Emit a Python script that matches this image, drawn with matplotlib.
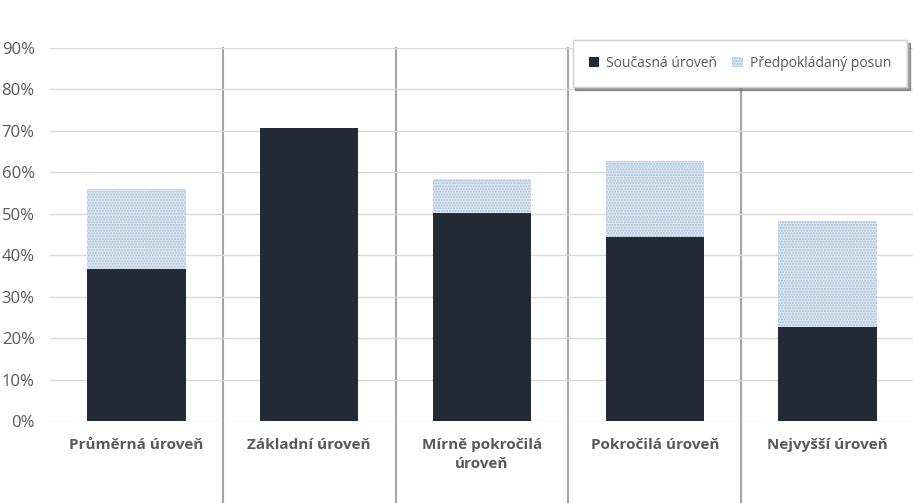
import matplotlib.pyplot as plt
import numpy as np

plt.rcParams['font.family'] = ['Open Sans', 'DejaVu Sans']

# Data
categories = ["Průměrná úroveň", "Základní úroveň", "Mírně pokročilá\núroveň",
              "Pokročilá úroveň", "Nejvyšší úroveň"]
current = [36.7, 70.7, 50.2, 44.4, 22.7]
shift = [19.3, 0.0, 8.2, 18.3, 25.6]
yticks = [0, 10, 20, 30, 40, 50, 60, 70, 80, 90]

fig = plt.figure(figsize=(9.13, 5.03), dpi=100)
ax = fig.add_axes([50 / 913, 82 / 503, 864 / 913, 373 / 503])

x = np.arange(len(categories))
ax.bar(x, current, width=0.57, color='#222a35', label='Současná úroveň', zorder=3)
ax.bar(x, shift, width=0.57, bottom=current, color='#dde7f2', edgecolor='#a8bfd9',
       hatch='......', linewidth=0, label='Předpokládaný posun', zorder=3)

ax.set_xlim(-0.5, len(categories) - 0.5)
ax.set_ylim(0, 90)
ax.set_yticks(yticks)
ax.set_yticklabels([f"{t}%" for t in yticks], color='#595959', fontsize=12)
ax.tick_params(axis='y', length=0, pad=11)
ax.grid(axis='y', color='#d9d9d9', linewidth=1, zorder=0)
for s in ax.spines.values():
    s.set_visible(False)

ax.set_xticks(x)
ax.set_xticklabels(categories, fontsize=11, fontweight='bold', color='#595959',
                   va='top', linespacing=1.5)
ax.tick_params(axis='x', length=0, pad=12)

# separators between categories, running down through the labels
for b in x[:-1] + 0.5:
    ax.plot([b, b], [90, -20.2], color='#a6a6a6', linewidth=1.5,
            clip_on=False, zorder=1)

leg = fig.legend(loc='upper right', bbox_to_anchor=(907 / 913, 1 - 40 / 503),
                 borderaxespad=0, ncol=2, frameon=True, fancybox=False,
                 shadow=True, fontsize=10, labelcolor='#595959',
                 handlelength=0.75, handleheight=0.75, handletextpad=0.5,
                 columnspacing=1.1, borderpad=1.15)
leg.get_frame().set_edgecolor('#d0d0d0')

fig.savefig('out.png', dpi=100, facecolor='white')
